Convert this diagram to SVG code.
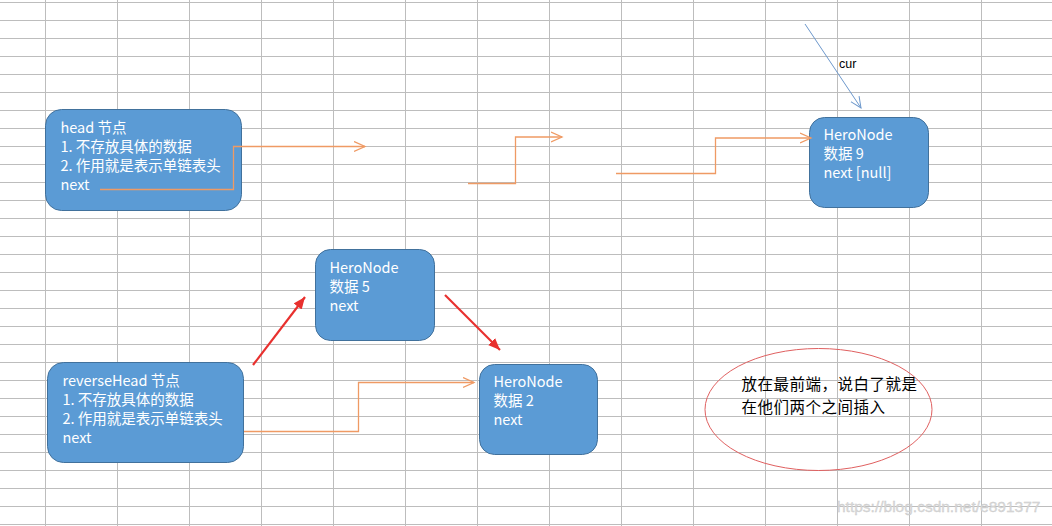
<svg xmlns="http://www.w3.org/2000/svg" width="1052" height="526" viewBox="0 0 1052 526">
<defs>
<style>
.grid{stroke:#bdbdbd;stroke-width:1;fill:none}
.node{fill:#5b9bd5;stroke:#41719c;stroke-width:1}
.nt{fill:#ffffff;font-family:"Noto Sans CJK SC","Liberation Sans",sans-serif;font-size:14.5px}
.orange{stroke:#ef9a64;stroke-width:1.3;fill:none}
.red{stroke:#e8302e;stroke-width:2.2;fill:none}
.blue{stroke:#6d98cc;stroke-width:1;fill:none}
.note{font-family:"Noto Sans CJK SC",sans-serif;font-size:15.5px;letter-spacing:0.5px;fill:#000000}
</style>
<marker id="oa" markerUnits="userSpaceOnUse" markerWidth="14" markerHeight="14" refX="11" refY="6" orient="auto" viewBox="0 0 14 14">
<path d="M0,1 L11,6 L0,11" fill="none" stroke="#ef9a64" stroke-width="1.3"/>
</marker>
<marker id="ba" markerUnits="userSpaceOnUse" markerWidth="14" markerHeight="14" refX="11" refY="6" orient="auto" viewBox="0 0 14 14">
<path d="M0,1 L11,6 L0,11" fill="none" stroke="#6d98cc" stroke-width="1"/>
</marker>
<marker id="ra" markerUnits="userSpaceOnUse" markerWidth="14" markerHeight="14" refX="12" refY="5" orient="auto" viewBox="0 0 14 14">
<path d="M0,0 L12,5 L0,10 z" fill="#e8302e"/>
</marker>
</defs>
<rect x="0" y="0" width="1052" height="526" fill="#ffffff"/>
<g id="grid" class="grid">
<path d="M45.5,0V526M117.5,0V526M189.5,0V526M261.5,0V526M333.5,0V526M405.5,0V526M477.5,0V526M549.5,0V526M621.5,0V526M693.5,0V526M765.5,0V526M837.5,0V526M909.5,0V526M981.5,0V526"/>
<path d="M0,2.5H1052M0,20.5H1052M0,38.5H1052M0,56.5H1052M0,74.5H1052M0,92.5H1052M0,110.5H1052M0,128.5H1052M0,146.5H1052M0,164.5H1052M0,182.5H1052M0,200.5H1052M0,218.5H1052M0,236.5H1052M0,254.5H1052M0,272.5H1052M0,290.5H1052M0,308.5H1052M0,326.5H1052M0,344.5H1052M0,362.5H1052M0,380.5H1052M0,398.5H1052M0,416.5H1052M0,434.5H1052M0,452.5H1052M0,470.5H1052M0,488.5H1052M0,506.5H1052M0,524.5H1052"/>
</g>
<g id="head">
<rect class="node" x="45.5" y="109.5" width="196" height="101" rx="16"/>
<text class="nt" x="60.5" y="133">head 节点</text>
<text class="nt" x="60.5" y="152">1. 不存放具体的数据</text>
<text class="nt" x="60.5" y="171">2. 作用就是表示单链表头</text>
<text class="nt" x="60.5" y="190">next</text>
</g>
<g id="node9">
<rect class="node" x="809.5" y="117.5" width="119" height="90" rx="15"/>
<text class="nt" x="823.5" y="140">HeroNode</text>
<text class="nt" x="823.5" y="159">数据 9</text>
<text class="nt" x="823.5" y="178">next [null]</text>
</g>
<g id="reverseHead">
<rect class="node" x="47.5" y="362.5" width="196" height="100" rx="16"/>
<text class="nt" x="62.5" y="386">reverseHead 节点</text>
<text class="nt" x="62.5" y="405">1. 不存放具体的数据</text>
<text class="nt" x="62.5" y="424">2. 作用就是表示单链表头</text>
<text class="nt" x="62.5" y="443">next</text>
</g>
<g id="node5">
<rect class="node" x="315.5" y="249.5" width="119" height="91" rx="15"/>
<text class="nt" x="329.5" y="273">HeroNode</text>
<text class="nt" x="329.5" y="292">数据 5</text>
<text class="nt" x="329.5" y="311">next</text>
</g>
<g id="node2">
<rect class="node" x="479.5" y="364.5" width="118" height="90" rx="15"/>
<text class="nt" x="493.5" y="387">HeroNode</text>
<text class="nt" x="493.5" y="406">数据 2</text>
<text class="nt" x="493.5" y="425">next</text>
</g>
<g id="note">
<ellipse cx="818.5" cy="409.5" rx="113.5" ry="61" fill="none" stroke="#e06060" stroke-width="1"/>
<text class="note" x="741.5" y="390">放在最前端，说白了就是</text>
<text class="note" x="741.5" y="413">在他们两个之间插入</text>
</g>
<g id="connectors">
<polyline class="orange" points="100,189.5 233.5,189.5 233.5,146.5 365,146.5" marker-end="url(#oa)"/>
<polyline class="orange" points="468,183.5 515.5,183.5 515.5,137 562,137" marker-end="url(#oa)"/>
<polyline class="orange" points="616,173.5 715.5,173.5 715.5,138 811,138" marker-end="url(#oa)"/>
<polyline class="orange" points="244,431.5 358.5,431.5 358.5,382.5 474,382.5" marker-end="url(#oa)"/>
<line class="red" x1="253" y1="365" x2="305" y2="297" marker-end="url(#ra)"/>
<line class="red" x1="445" y1="295" x2="500" y2="350" marker-end="url(#ra)"/>
<line class="blue" x1="805" y1="24" x2="861" y2="108" marker-end="url(#ba)"/>
<text x="839" y="68" font-family="Liberation Sans,sans-serif" font-size="12.5" fill="#000000">cur</text>
</g>
<text x="837" y="512" font-family="Liberation Sans,sans-serif" font-size="15.5" fill="#d9d9d9" stroke="#c8c8c8" stroke-width="0.3">https://blog.csdn.net/e891377</text>
</svg>
